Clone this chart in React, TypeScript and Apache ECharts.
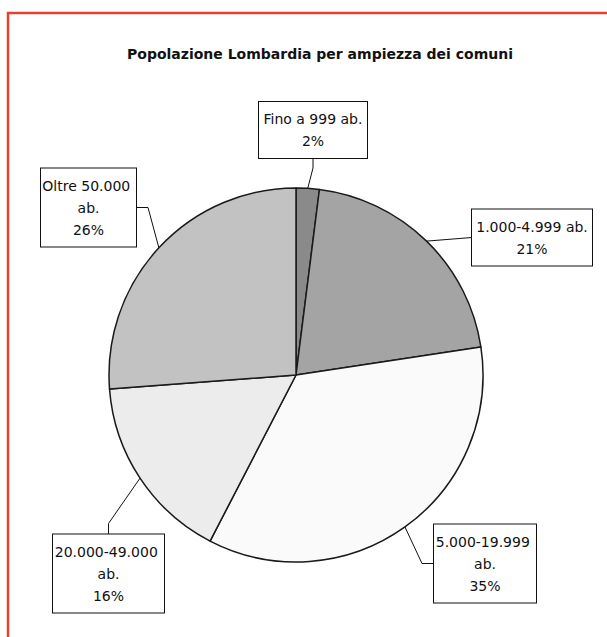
import { useEffect, useRef } from "react";
import * as echarts from "echarts";

const chartTitle = "Popolazione Lombardia per ampiezza dei comuni";
const categories = [
  "Fino a 999 ab.",
  "1.000-4.999 ab.",
  "5.000-19.999 ab.",
  "20.000-49.000 ab.",
  "Oltre 50.000 ab.",
];
const shares = [2.0, 20.6, 35.0, 16.2, 26.2];
const sliceColors = ["#8a8a8a", "#a4a4a4", "#fafafa", "#ececec", "#c2c2c2"];

// label box layout: centre, size, side the leader line attaches to, elbow length
const boxCenters = [
  [313, 130],
  [532, 237.5],
  [485, 563.5],
  [108.5, 573.5],
  [88.5, 207.5],
];
const boxSizes = [
  [108, 56],
  [120, 56],
  [102, 78],
  [111, 78],
  [95, 78],
];
const anchorSides = ["bottom", "left", "left", "top", "right"];
const elbowLengths = [10, 0, 12, 11, 12];

const CX = 296;
const CY = 375;
const R = 187;

export default function App() {
  const ref = useRef<HTMLDivElement>(null);

  useEffect(() => {
    if (!ref.current) return;
    const chart = echarts.init(ref.current, null, { renderer: "svg" });
    const total = shares.reduce((a, b) => a + b, 0);

    const option: any = {
      animation: false,
      backgroundColor: "#ffffff",
      title: {
        text: chartTitle,
        left: 320,
        top: 47,
        textAlign: "center",
        padding: 0,
        textStyle: {
          fontFamily: "DejaVu Sans",
          fontWeight: "bold",
          fontSize: 14,
          color: "#111",
        },
      },
      graphic: [
        {
          type: "rect",
          shape: { x: 8, y: 13, width: 700, height: 700 },
          style: { fill: "none", stroke: "#e8402f", lineWidth: 2.5 },
          z: 100,
        },
      ],
      series: [
        {
          type: "pie",
          center: [CX, CY],
          radius: R,
          startAngle: 90,
          clockwise: true,
          avoidLabelOverlap: false,
          itemStyle: { borderColor: "#1a1a1a", borderWidth: 1.5 },
          emphasis: { disabled: true },
          label: {
            show: true,
            position: "outside",
            formatter: (p: any) => `${p.name}\n${Math.round(p.percent)}%`,
            color: "#111",
            fontFamily: "DejaVu Sans",
            fontSize: 14,
            lineHeight: 22,
            align: "center",
            backgroundColor: "#ffffff",
            borderColor: "#111",
            borderWidth: 1,
            padding: [6, 0],
            overflow: "break",
          },
          labelLine: {
            show: true,
            length: 10,
            length2: 10,
            lineStyle: { color: "#111", width: 1 },
          },
          labelLayout: (params: any) => {
            const i = params.dataIndex;
            const [bx, by] = boxCenters[i];
            const [bw, bh] = boxSizes[i];
            let cum = 0;
            for (let k = 0; k < i; k++) cum += shares[k];
            const a = ((cum + shares[i] / 2) / total) * 2 * Math.PI;
            const p0 = [CX + R * Math.sin(a), CY - R * Math.cos(a)];
            let anchor = [bx, by];
            let dir = [0, 0];
            const side = anchorSides[i];
            if (side === "bottom") {
              anchor = [bx, by + bh / 2];
              dir = [0, 1];
            } else if (side === "top") {
              anchor = [bx, by - bh / 2];
              dir = [0, -1];
            } else if (side === "left") {
              anchor = [bx - bw / 2, by];
              dir = [-1, 0];
            } else {
              anchor = [bx + bw / 2, by];
              dir = [1, 0];
            }
            const len = elbowLengths[i];
            const elbow = [anchor[0] + dir[0] * len, anchor[1] + dir[1] * len];
            return {
              x: bx,
              y: by,
              align: "center",
              verticalAlign: "middle",
              labelLinePoints: [p0, elbow, anchor],
            };
          },
          data: categories.map((name, i) => ({
            name,
            value: shares[i],
            itemStyle: { color: sliceColors[i] },
            label: { width: boxSizes[i][0] },
          })),
        },
      ],
    };

    chart.setOption(option);
    return () => chart.dispose();
  }, []);

  return (
    <div
      ref={ref}
      style={{
        position: "fixed",
        left: 0,
        top: 0,
        width: 607,
        height: 637,
        background: "#fff",
      }}
    />
  );
}
